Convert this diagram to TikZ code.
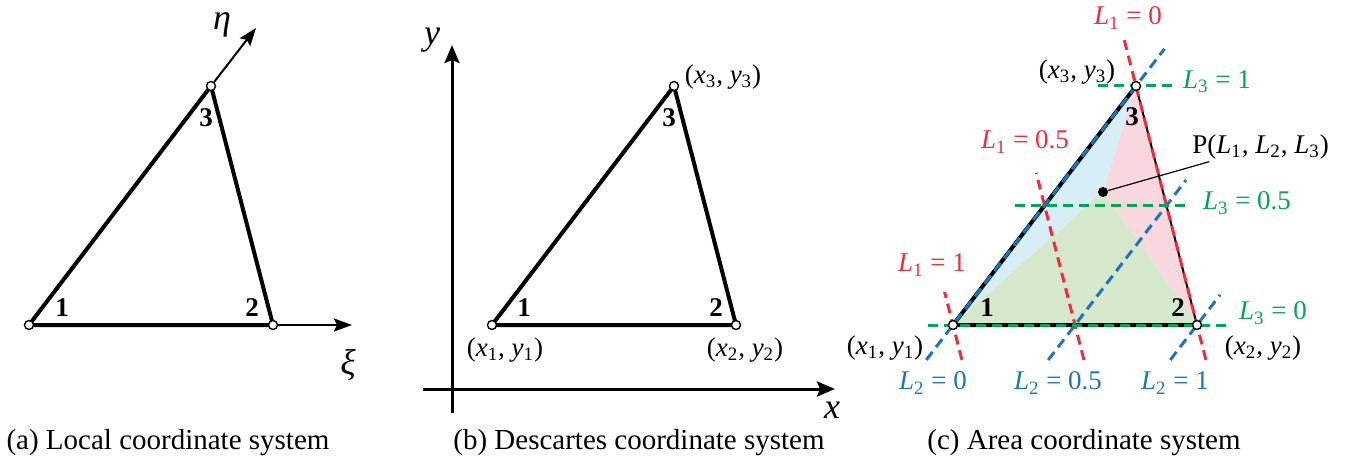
\documentclass[tikz,border=0pt]{standalone}
\usepackage{fontspec}
\setmainfont{Liberation Serif}
\usetikzlibrary{arrows.meta,positioning,calc}
\definecolor{redline}{HTML}{EE2C3C}
\definecolor{blueline}{HTML}{1C75BC}
\definecolor{greenline}{HTML}{00A650}
\definecolor{lightblue}{HTML}{D8EEF6}
\definecolor{lightpink}{HTML}{F8D7DE}
\definecolor{lightgreen}{HTML}{D5E8CB}
\newcommand{\Lv}[1]{\textit{L}\textsubscript{#1}}
\newcommand{\xyv}[1]{(\textit{x}\textsubscript{#1}, \textit{y}\textsubscript{#1})}

\begin{document}
\begin{tikzpicture}[
  x=0.5pt,y=-0.5pt,
  edge/.style={line width=2pt,line join=round},
  axis/.style={line width=1.5pt,-{Stealth[length=9pt,width=7.5pt,inset=1.5pt]}},
  thinaxis/.style={line width=1pt,-{Stealth[length=9pt,width=6.5pt,inset=1.5pt]}},
  vtx/.style={circle,draw,fill=white,inner sep=0pt,minimum size=4.5pt,line width=0.7pt},
  dot/.style={circle,fill=black,inner sep=0pt,minimum size=5pt},
  lab/.style={font=\fontsize{13.5}{16}\selectfont,inner sep=1pt},
  num/.style={font=\fontsize{13.5}{16}\selectfont\bfseries,inner sep=1pt},
  axlab/.style={font=\fontsize{18}{20}\selectfont\itshape,inner sep=1pt},
  caption/.style={font=\fontsize{14.5}{17}\selectfont,inner sep=0pt},
  dsh/.style={line width=1.5pt,dash pattern=on 5pt off 3pt},
  redl/.style={dsh,draw=redline},
  bluel/.style={dsh,draw=blueline},
  greenl/.style={dsh,draw=greenline}
]
\useasboundingbox (0,0) rectangle (1349,465);

% (a) local coordinates
\coordinate (A1) at (29,325);
\coordinate (A2) at (273,325);
\coordinate (A3) at (211,86);
\coordinate (xiend) at (352,325);
\coordinate (etaend) at (256,28);
\draw[edge] (A1)--(A2)--(A3)--cycle;
\node[vtx] (a1) at (A1) {};
\node[vtx] (a2) at (A2) {};
\node[vtx] (a3) at (A3) {};
\draw[thinaxis] (a2)--(xiend);
\draw[thinaxis] (a3)--(etaend);
\node[axlab] (xi) at (348,365) {ξ};
\node[axlab] (eta) at (222,25) {η};
\node[num] (na1) at (62,308) {1};
\node[num] (na2) at (252,308) {2};
\node[num] (na3) at (206,118) {3};
\node[caption] (capa) at (168,443) {(a) Local coordinate system};

% (b) Descartes coordinates
\coordinate (ybot) at (452,413);
\coordinate (ytop) at (452,45);
\coordinate (xleft) at (423,389);
\coordinate (xright) at (835,389);
\draw[axis] (ybot)--(ytop);
\draw[axis] (xleft)--(xright);
\node[axlab] (ylab) at (432,40) {y};
\node[axlab] (xlab) at (832,410) {x};
\coordinate (B1) at (492,325);
\coordinate (B2) at (736,325);
\coordinate (B3) at (674,86);
\draw[edge] (B1)--(B2)--(B3)--cycle;
\node[vtx] (b1) at (B1) {};
\node[vtx] (b2) at (B2) {};
\node[vtx] (b3) at (B3) {};
\node[num] (nb1) at (524,308) {1};
\node[num] (nb2) at (716,308) {2};
\node[num] (nb3) at (669,118) {3};
\node[lab] (xyb1) at (505,350) {\xyv{1}};
\node[lab] (xyb2) at (745,350) {\xyv{2}};
\node[lab] (xyb3) at (723,77) {\xyv{3}};
\node[caption] (capb) at (639,443) {(b) Descartes coordinate system};

% (c) area coordinates
\coordinate (C1) at (953,325);
\coordinate (C2) at (1197,325);
\coordinate (C3) at (1136,86);
\coordinate (P) at (1103,192);
\coordinate (M12) at ($(C1)!0.5!(C2)$);
\coordinate (M13) at ($(C1)!0.5!(C3)$);
\coordinate (M23) at ($(C2)!0.5!(C3)$);
\coordinate (D1) at ($(C1)+(C3)-(C2)$);
\coordinate (D2) at ($(C2)+(C3)-(C1)$);
\coordinate (D3) at ($(C3)+(C2)-(C1)$);
\fill[lightblue] (P)--(C1)--(C3)--cycle;
\fill[lightpink] (P)--(C2)--(C3)--cycle;
\fill[lightgreen] (P)--(C1)--(C2)--cycle;
\draw[edge] (C3)--(C1)--(C2);
\draw[line width=1pt] (C2)--(C3);
% L1 lines
\draw[redl] ($(C2)!-0.146!(C3)$)--($(C2)!1.192!(C3)$);
\draw[redl] ($(M12)!-0.293!(M13)$)--($(M12)!1.272!(M13)$);
\draw[redl] ($(C1)!-0.146!(D1)$)--($(C1)!0.138!(D1)$);
% L2 lines
\draw[bluel] ($(C1)!-0.146!(C3)$)--($(C1)!1.155!(C3)$);
\draw[bluel] ($(M12)!-0.293!(M23)$)--($(M12)!1.213!(M23)$);
\draw[bluel] ($(C2)!-0.146!(D2)$)--($(C2)!0.126!(D2)$);
% L3 lines
\draw[greenl] ($(C1)!-0.102!(C2)$)--($(C1)!1.127!(C2)$);
\draw[greenl] ($(M13)!-0.242!(M23)$)--($(M13)!1.176!(M23)$);
\draw[greenl] ($(C3)!-0.156!(D3)$)--($(C3)!0.160!(D3)$);
\node[vtx] (c1) at (C1) {};
\node[vtx] (c2) at (C2) {};
\node[vtx] (c3) at (C3) {};
\node[dot] (pdot) at (P) {};
\node[lab,anchor=west] (plab) at (1190,147) {P(\Lv{1}, \Lv{2}, \Lv{3})};
\draw[line width=0.6pt] (pdot)--(plab);
\node[num] (nc1) at (987,308) {1};
\node[num] (nc2) at (1178,308) {2};
\node[num] (nc3) at (1132,117) {3};
\node[lab] (xyc1) at (885,348) {\xyv{1}};
\node[lab] (xyc2) at (1263,348) {\xyv{2}};
\node[lab] (xyc3) at (1077,72) {\xyv{3}};
\node[lab,text=redline] (l10) at (1128,18) {\Lv{1} = 0};
\node[lab,text=redline] (l105) at (1025,142) {\Lv{1} = 0.5};
\node[lab,text=redline] (l11) at (932,265) {\Lv{1} = 1};
\node[lab,text=blueline] (l20) at (933,383) {\Lv{2} = 0};
\node[lab,text=blueline] (l205) at (1058,383) {\Lv{2} = 0.5};
\node[lab,text=blueline] (l21) at (1175,383) {\Lv{2} = 1};
\node[lab,text=greenline] (l31) at (1217,82) {\Lv{3} = 1};
\node[lab,text=greenline] (l305) at (1247,203) {\Lv{3} = 0.5};
\node[lab,text=greenline] (l30) at (1273,313) {\Lv{3} = 0};
\node[caption] (capc) at (1084,443) {(c) Area coordinate system};
\end{tikzpicture}
\end{document}
